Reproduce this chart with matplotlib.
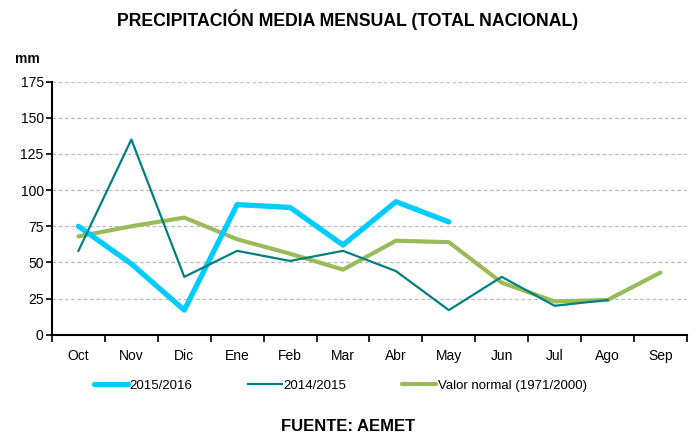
import matplotlib.pyplot as plt
import numpy as np

plt.rcParams['font.family'] = ['Liberation Sans Narrow', 'Liberation Sans', 'DejaVu Sans']

meses = ["Oct", "Nov", "Dic", "Ene", "Feb", "Mar", "Abr", "May", "Jun", "Jul", "Ago", "Sep"]
p_2015_2016 = [75, 49, 17, 90, 88, 62, 92, 78]
p_2014_2015 = [58, 135, 40, 58, 51, 58, 44, 17, 40, 20, 24]
p_normal = [68, 75, 81, 66, 56, 45, 65, 64, 36, 23, 24, 43]

fig = plt.figure(figsize=(6.96, 4.34), dpi=100)
ax = fig.add_axes([0.0747, 0.2288, 0.9123, 0.583])

x = np.arange(len(meses))
ax.plot(x[:len(p_2015_2016)], p_2015_2016, color="#00CCFF", lw=3.8,
        solid_capstyle="round", label="2015/2016", zorder=3)
ax.plot(x[:len(p_2014_2015)], p_2014_2015, color="#008080", lw=1.6,
        label="2014/2015", zorder=4)
ax.plot(x, p_normal, color="#9BBB59", lw=3.0, solid_capstyle="round",
        label="Valor normal (1971/2000)", zorder=2)

ax.set_xlim(-0.5, len(meses) - 0.5)
ax.set_ylim(0, 175)
ax.set_yticks(np.arange(0, 176, 25))
ax.set_xticks(x)
ax.set_xticklabels(meses)
ax.set_xticks(np.arange(-0.5, len(meses)), minor=True)
ax.tick_params(axis="x", which="major", length=0, pad=10, labelsize=10)
ax.tick_params(axis="x", which="minor", length=5, width=1.2, direction="out")
ax.tick_params(axis="y", length=4, width=1.2, labelsize=10, pad=2)

ax.grid(axis="y", linestyle=(0, (3, 2)), color="#BFBFBF", lw=0.9)
ax.set_axisbelow(True)
for s in ["top", "right"]:
    ax.spines[s].set_visible(False)
for s in ["left", "bottom"]:
    ax.spines[s].set_linewidth(1.5)

fig.text(0.5, 0.955, "PRECIPITACIÓN MEDIA MENSUAL (TOTAL NACIONAL)",
         ha="center", va="center", fontsize=12.7, fontweight="bold")
fig.text(0.022, 0.865, "mm", ha="left", va="center", fontsize=10, fontweight="bold")
fig.text(0.5, 0.018, "FUENTE: AEMET", ha="center", va="center",
         fontsize=12, fontweight="bold")

fig.legend(loc="center", bbox_to_anchor=(0.489, 0.111), ncol=3, frameon=False,
           fontsize=9.5, handlelength=2.6, handletextpad=0.1, columnspacing=4.2)

fig.savefig("out.png", dpi=100)
